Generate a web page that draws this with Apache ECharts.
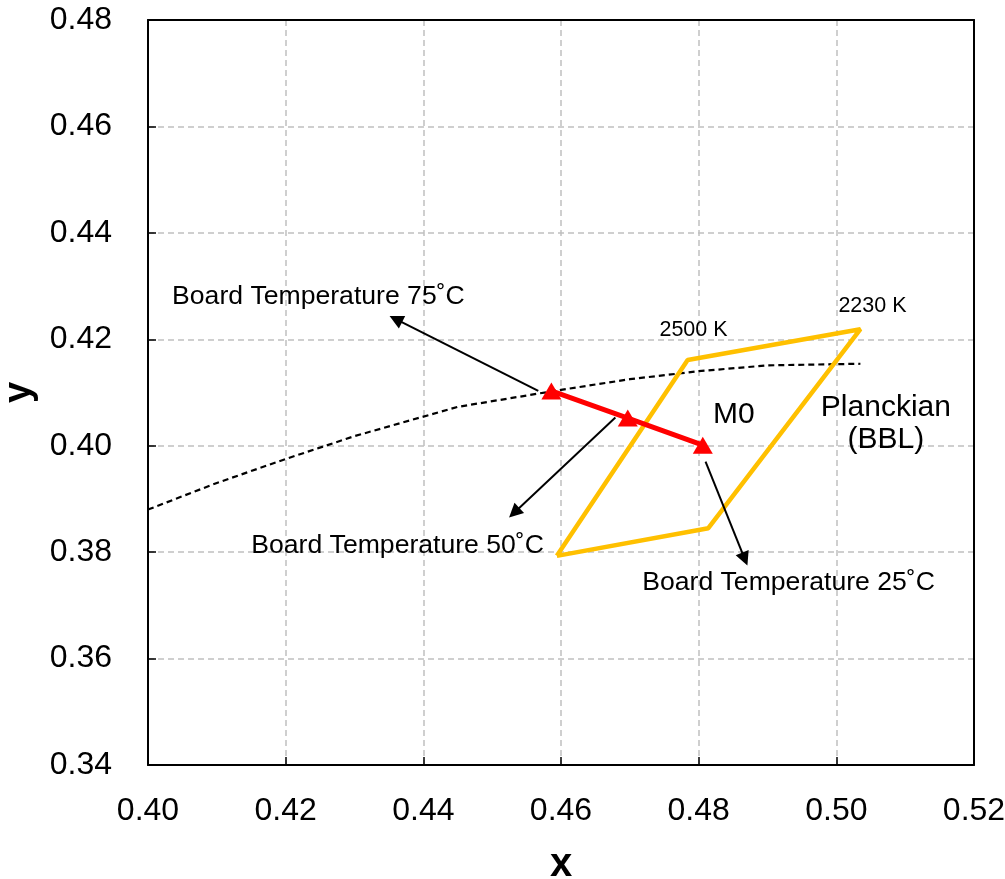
<!DOCTYPE html>
<html>
<head>
<meta charset="utf-8">
<script src="https://cdn.jsdelivr.net/npm/echarts@6/dist/echarts.min.js"></script>
<style>
  html, body { margin: 0; padding: 0; background: #fff; }
  #chart { width: 1005px; height: 879px; }
</style>
</head>
<body>
<div id="chart"></div>
<script>
// Planckian locus (BBL), dashed
var planckX = [0.400, 0.410, 0.420, 0.430, 0.445, 0.460, 0.470, 0.480, 0.490, 0.5035];
var planckY = [0.3880, 0.3930, 0.3975, 0.4018, 0.4073, 0.4105, 0.4125, 0.4140, 0.4151, 0.4154];

// M0 bin quadrangle (2500 K / 2230 K)
var binX = [0.4594, 0.4814, 0.5035, 0.4784, 0.4594];
var binY = [0.3793, 0.3845, 0.4219, 0.4161, 0.3793];

// colour point shift with board temperature: 75, 50, 25 C
var tempX = [0.4586, 0.4697, 0.4806];
var tempY = [0.4103, 0.4052, 0.4001];

// annotation arrows: [from x, from y, to x, to y]
var arrows = [
  [0.4567, 0.4103, 0.4360, 0.4238],
  [0.4679, 0.4053, 0.4532, 0.3874],
  [0.4810, 0.3970, 0.4867, 0.3787]
];

// text notes: [x, y, text, size, align]
var notes = [
  [0.4035, 0.4281, 'Board Temperature 75\u02DAC', 26.6, 'left'],
  [0.4150, 0.3813, 'Board Temperature 50\u02DAC', 26.6, 'left'],
  [0.4718, 0.3742, 'Board Temperature 25\u02DAC', 26.6, 'left'],
  [0.4743, 0.4218, '2500 K', 21.5, 'left'],
  [0.5003, 0.4263, '2230 K', 21.5, 'left'],
  [0.4821, 0.4058, 'M0', 30, 'left'],
  [0.5072, 0.4041, 'Planckian\n(BBL)', 30, 'center']
];

var xTicks = [0.40, 0.42, 0.44, 0.46, 0.48, 0.50, 0.52];
var yTicks = [0.34, 0.36, 0.38, 0.40, 0.42, 0.44, 0.46, 0.48];

function pairs(xs, ys) {
  return xs.map(function (x, i) { return [x, ys[i]]; });
}

var chart = echarts.init(document.getElementById('chart'), null, { renderer: 'canvas' });

var font = 'Liberation Sans, Arial, sans-serif';
var gridDash = { color: '#c0c0c0', type: [6, 4], width: 1.5 };

option = {
  backgroundColor: '#fff',
  animation: false,
  textStyle: { fontFamily: font, color: '#000' },
  grid: {
    left: 148, top: 20, right: 31, bottom: 114,
    containLabel: false, outerBoundsMode: 'none'
  },
  xAxis: [{
    type: 'value',
    min: xTicks[0], max: xTicks[xTicks.length - 1], interval: 0.02,
    name: 'x', nameLocation: 'middle', nameGap: 80,
    nameTextStyle: { fontSize: 40, fontWeight: 'bold', color: '#000', fontFamily: font },
    axisLine: { onZero: false, lineStyle: { color: '#000', width: 2 } },
    axisTick: { inside: true, length: 8, lineStyle: { color: '#000', width: 1.5 } },
    axisLabel: { fontSize: 32, color: '#000', margin: 30, fontFamily: font,
      formatter: function (v) { return v.toFixed(2); } },
    splitLine: { show: true, showMinLine: false, showMaxLine: false, lineStyle: gridDash }
  }, {
    type: 'value', position: 'top',
    min: xTicks[0], max: xTicks[xTicks.length - 1],
    axisLine: { onZero: false, lineStyle: { color: '#000', width: 2 } },
    axisTick: { show: false }, axisLabel: { show: false }, splitLine: { show: false }
  }],
  yAxis: [{
    type: 'value',
    min: yTicks[0], max: yTicks[yTicks.length - 1], interval: 0.02,
    name: 'y', nameLocation: 'middle', nameGap: 98, nameRotate: 90,
    nameTextStyle: { fontSize: 38, fontWeight: 'bold', color: '#000', fontFamily: font },
    axisLine: { onZero: false, lineStyle: { color: '#000', width: 2 } },
    axisTick: { inside: true, length: 8, lineStyle: { color: '#000', width: 1.5 } },
    axisLabel: { fontSize: 32, color: '#000', margin: 36, fontFamily: font,
      formatter: function (v) { return v.toFixed(2); } },
    splitLine: { show: true, showMinLine: false, showMaxLine: false, lineStyle: gridDash }
  }, {
    type: 'value', position: 'right',
    min: yTicks[0], max: yTicks[yTicks.length - 1],
    axisLine: { show: true, onZero: false, lineStyle: { color: '#000', width: 2 } },
    axisTick: { show: false }, axisLabel: { show: false }, splitLine: { show: false }
  }],
  series: [
    {
      name: 'Planckian',
      type: 'line',
      data: pairs(planckX, planckY),
      showSymbol: false,
      lineStyle: { color: '#000', width: 2.2, type: [6, 4] },
      z: 2
    },
    {
      name: 'M0 bin',
      type: 'line',
      data: pairs(binX, binY),
      showSymbol: false,
      lineStyle: { color: '#FFC000', width: 4.5 },
      z: 3
    },
    {
      name: 'Board temperature',
      type: 'line',
      data: pairs(tempX, tempY),
      symbol: 'triangle',
      symbolSize: [20, 17],
      itemStyle: { color: '#FF0000', opacity: 1 },
      lineStyle: { color: '#FF0000', width: 5 },
      z: 4
    },
    {
      name: 'arrows',
      type: 'lines',
      coordinateSystem: 'cartesian2d',
      symbol: ['none', 'triangle'],
      symbolSize: 14,
      lineStyle: { color: '#000', width: 2, opacity: 1, curveness: 0 },
      data: arrows.map(function (a) { return { coords: [[a[0], a[1]], [a[2], a[3]]] }; }),
      z: 5
    },
    {
      name: 'notes',
      type: 'scatter',
      symbolSize: 0,
      silent: true,
      itemStyle: { opacity: 1 },
      data: notes.map(function (n) {
        return {
          value: [n[0], n[1]],
          label: {
            show: true, position: 'inside', formatter: n[2],
            fontSize: n[3], align: n[4], verticalAlign: 'middle',
            lineHeight: 32,
            color: '#000', opacity: 1, fontFamily: font
          }
        };
      }),
      z: 6
    }
  ]
};

chart.setOption(option);
</script>
</body>
</html>
